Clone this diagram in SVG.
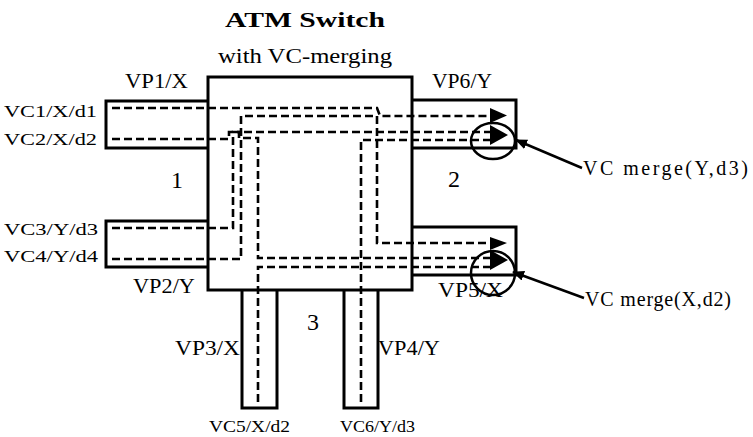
<svg xmlns="http://www.w3.org/2000/svg" width="753" height="437" viewBox="0 0 753 437">
<style>
text{font-family:"Liberation Serif","Times New Roman",serif;fill:#000}
.lbl{font-size:20px}
.sm{font-size:17px}
.bt{font-size:16px}
.num{font-size:24px}
.title{font-size:21px;font-weight:bold}
.box{fill:#fff;stroke:#000;stroke-width:3}
.port{fill:none;stroke:#000;stroke-width:3;stroke-linejoin:miter}
.vc{fill:none;stroke:#000;stroke-width:2.6;stroke-dasharray:8 4}
.head{fill:#000}
.ring{fill:none;stroke:#000;stroke-width:2.5}
.ptr{fill:none;stroke:#000;stroke-width:2.5}
</style>
<defs>
<marker id="ah" viewBox="0 0 12 10" refX="11" refY="5" markerWidth="12" markerHeight="10" markerUnits="userSpaceOnUse" orient="auto">
<path d="M0,0 L12,5 L0,10 Z" fill="#000"/>
</marker>
</defs>
<rect width="753" height="437" fill="#fff"/>

<g id="title">
<text class="title" x="225" y="27" textLength="160" lengthAdjust="spacingAndGlyphs">ATM Switch</text>
<text class="lbl" x="218" y="63" textLength="174" lengthAdjust="spacingAndGlyphs">with VC-merging</text>
</g>

<g id="switch">
<rect class="box" x="208" y="77" width="204" height="213"/>
</g>

<g id="port1">
<path class="port" d="M208,101 H106 V148 H208"/>
<path class="port" d="M208,221 H106 V267 H208"/>
<text class="lbl" x="125" y="88" textLength="63" lengthAdjust="spacingAndGlyphs">VP1/X</text>
<text class="lbl" x="133" y="293" textLength="62" lengthAdjust="spacingAndGlyphs">VP2/Y</text>
<text class="num" x="171" y="188">1</text>
<text class="sm" x="4" y="117" textLength="93" lengthAdjust="spacingAndGlyphs">VC1/X/d1</text>
<text class="sm" x="4" y="145" textLength="93" lengthAdjust="spacingAndGlyphs">VC2/X/d2</text>
<text class="sm" x="4" y="235" textLength="94" lengthAdjust="spacingAndGlyphs">VC3/Y/d3</text>
<text class="sm" x="4" y="262" textLength="94" lengthAdjust="spacingAndGlyphs">VC4/Y/d4</text>
</g>

<g id="port2">
<path class="port" d="M412,100 H516 V148 H412"/>
<path class="port" d="M412,227 H516 V275 H412"/>
<text class="lbl" x="432" y="88" textLength="60" lengthAdjust="spacingAndGlyphs">VP6/Y</text>
<text class="lbl" x="438" y="297" textLength="65" lengthAdjust="spacingAndGlyphs">VP5/X</text>
<text class="num" x="448" y="187">2</text>
</g>

<g id="port3">
<path class="port" d="M242,290 V408 H277 V290"/>
<path class="port" d="M344,290 V408 H378 V290"/>
<text class="lbl" x="175" y="355" textLength="65" lengthAdjust="spacingAndGlyphs">VP3/X</text>
<text class="lbl" x="378" y="355" textLength="62" lengthAdjust="spacingAndGlyphs">VP4/Y</text>
<text class="num" x="307" y="330">3</text>
<text class="bt" x="209" y="432" textLength="81" lengthAdjust="spacingAndGlyphs">VC5/X/d2</text>
<text class="bt" x="340" y="432" textLength="75" lengthAdjust="spacingAndGlyphs">VC6/Y/d3</text>
</g>

<g id="merge-y-d3">
<ellipse class="ring" cx="493" cy="141" rx="22" ry="18"/>
<text class="lbl" x="583" y="175" textLength="165" lengthAdjust="spacing">VC  merge(Y,d3)</text>
</g>

<g id="merge-x-d2">
<ellipse class="ring" cx="493" cy="273" rx="22" ry="22"/>
<text class="lbl" x="585" y="306" textLength="146" lengthAdjust="spacing">VC  merge(X,d2)</text>
</g>

<g id="connectors">
<path class="vc" d="M112,108 H377 L380,116 H490"/>
<path class="vc" d="M112,139 H229 V132 H239 V138 H258 V258 H490"/>
<path class="vc" d="M112,228 H233 V132 H490"/>
<path class="vc" d="M112,259 H241 V116 H377 V243 H490"/>
<path class="vc" d="M258,402 V267 H490"/>
<path class="vc" d="M361,402 V140 H490"/>
<polygon class="head" points="490,108 507,115.5 490,123"/>
<polygon class="head" points="490,125 508,135 490,145"/>
<polygon class="head" points="490,237 507,243 490,250"/>
<polygon class="head" points="490,250 508,260 490,270"/>
<path class="ptr" d="M582,168 L516,140" marker-end="url(#ah)"/>
<path class="ptr" d="M584,298 L513,272" marker-end="url(#ah)"/>
</g>
</svg>
